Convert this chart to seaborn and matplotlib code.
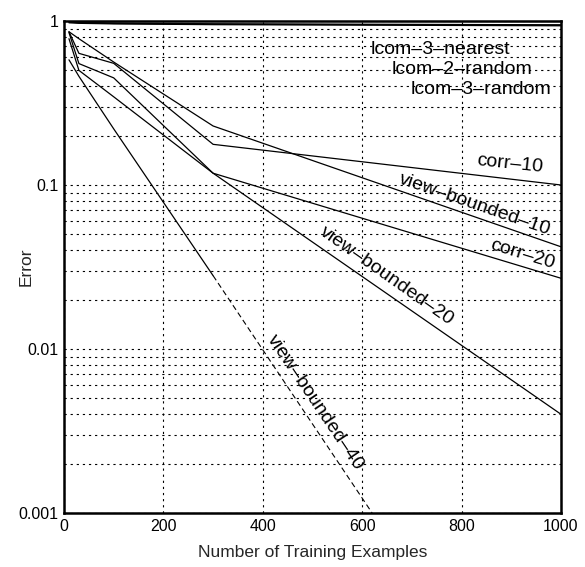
import numpy as np
import pandas as pd
import matplotlib
matplotlib.use("Agg")
import matplotlib.pyplot as plt
import seaborn as sns

# ---- data ----
x_pts = [10, 30, 100, 300, 1000]
lcom_3_nearest = [0.975, 0.968, 0.960, 0.950, 0.935]
lcom_2_random = [0.990, 0.982, 0.972, 0.962, 0.948]
lcom_3_random = [0.985, 0.976, 0.966, 0.956, 0.942]
corr_10 = [0.86, 0.635, 0.552, 0.177, 0.100]
view_bounded_10 = [0.86, 0.78, 0.562, 0.229, 0.042]
corr_20 = [0.85, 0.55, 0.45, 0.118, 0.027]
view_bounded_20 = [0.78, 0.50, 0.345, 0.118, 0.004]
vb40_x = [10, 30, 100, 300]
view_bounded_40 = [0.58, 0.46, 0.22, 0.028]
vb40_ext_x = [300, 620]
view_bounded_40_ext = [0.028, 0.001]

x_ticks = [0, 200, 400, 600, 800, 1000]
y_ticks = [0.001, 0.01, 0.1, 1]
y_ticklabels = ["0.001", "0.01", "0.1", "1"]

sns.set_style("white")
plt.rcParams["font.family"] = ["Liberation Sans", "DejaVu Sans"]

fig = plt.figure(figsize=(5.85, 5.67), dpi=100)
ax = fig.add_axes([64 / 585, (567 - 513) / 567, (561 - 64) / 585, (513 - 21) / 567])

series = [lcom_3_nearest, lcom_2_random, lcom_3_random,
          corr_10, view_bounded_10, corr_20, view_bounded_20]
for s in series:
    sns.lineplot(x=x_pts, y=s, ax=ax, color="black", lw=0.9)
sns.lineplot(x=vb40_x, y=view_bounded_40, ax=ax, color="black", lw=0.9)
sns.lineplot(x=vb40_ext_x, y=view_bounded_40_ext, ax=ax, color="black",
             lw=0.8, linestyle=(0, (5, 3)))

ax.set_yscale("log")
ax.set_xlim(0, 1000)
ax.set_ylim(0.001, 1)
ax.set_xticks(x_ticks)
ax.set_xticklabels([str(t) for t in x_ticks])
ax.set_yticks(y_ticks)
ax.set_yticklabels(y_ticklabels)
ax.yaxis.set_minor_formatter(matplotlib.ticker.NullFormatter())
ax.tick_params(which="both", length=0, labelsize=11.5, pad=4, colors="black")

grid_kw = dict(color="black", lw=0.8, linestyle=(0, (2, 3.5)))
ax.grid(which="major", axis="x", **grid_kw)
ax.grid(which="both", axis="y", **grid_kw)

for sp in ax.spines.values():
    sp.set_visible(True)
    sp.set_color("black")
    sp.set_linewidth(1.8)

ax.set_xlabel("Number of Training Examples", fontsize=12.5, labelpad=8)
ax.set_ylabel("Error", fontsize=12.5)
ax.yaxis.set_label_coords(-0.062, 0.5)

lab_kw = dict(fontsize=14, ha="center", va="center", color="black",
              rotation_mode="anchor")
ax.text(758, 0.666, "lcom–3–nearest", **lab_kw)
ax.text(801, 0.503, "lcom–2–random", **lab_kw)
ax.text(839, 0.38, "lcom–3–random", **lab_kw)
ax.text(897, 0.135, "corr–10", rotation=-6, **lab_kw)
ax.text(827, 0.0757, "view–bounded–10", rotation=-19, **lab_kw)
ax.text(923, 0.0378, "corr–20", rotation=-17, **lab_kw)
ax.text(650, 0.0280, "view–bounded–20", rotation=-35, **lab_kw)
ax.text(505, 0.0047, "view–bounded–40", rotation=-56, **lab_kw)

fig.savefig("out.png", dpi=100)
